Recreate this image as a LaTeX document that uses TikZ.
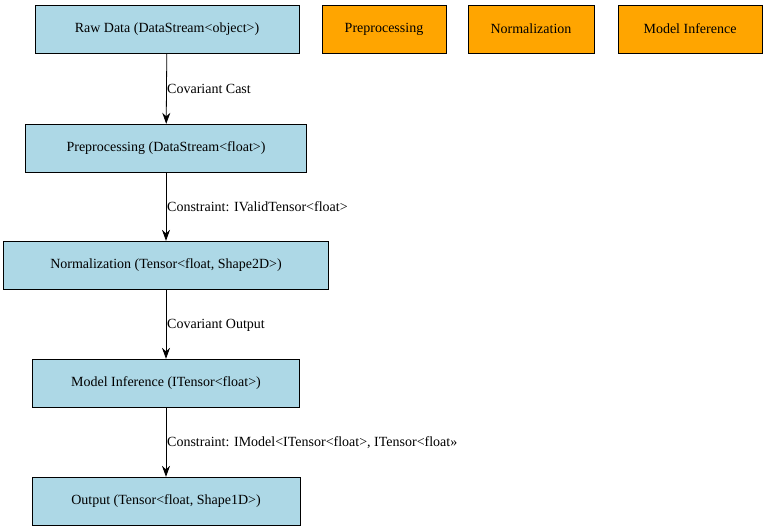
\documentclass[tikz,border=0pt]{standalone}
\usepackage{fontspec}
\setmainfont{Liberation Serif}
\usetikzlibrary{arrows.meta}
\begin{document}
\begin{tikzpicture}[x=1pt,y=-1pt,
  box/.style={draw=black,fill=blue!15!cyan!30!white,fill=lightblue,minimum height=48pt,inner sep=0pt,font=\fontsize{14}{16}\selectfont},
  obox/.style={draw=black,fill=orangec,minimum height=48pt,inner sep=0pt,font=\fontsize{14}{16}\selectfont},
  lab/.style={anchor=west,font=\fontsize{14}{16}\selectfont,inner sep=0pt},
  arr/.style={-{Stealth[length=11pt,width=8pt]},line width=0.8pt}]
\definecolor{lightblue}{RGB}{173,216,230}
\definecolor{orangec}{RGB}{255,165,0}
\useasboundingbox (0,0) rectangle (767,531);
\node[box,minimum width=264pt] (raw) at (167,29) {Raw Data (DataStream<object>)};
\node[obox,minimum width=124pt] (o1) at (384,29) {Preprocessing};
\node[obox,minimum width=126pt] (o2) at (531,29) {Normalization};
\node[obox,minimum width=144pt] (o3) at (690,29) {Model Inference};
\node[box,minimum width=281pt] (pre) at (166,148) {Preprocessing (DataStream<float>)};
\node[box,minimum width=325pt] (norm) at (166,265) {Normalization (Tensor<float, Shape2D>)};
\node[box,minimum width=267pt] (mi) at (166,383) {Model Inference (ITensor<float>)};
\node[box,minimum width=268pt] (out) at (166,501) {Output (Tensor<float, Shape1D>)};
\draw[arr] (raw) -- (pre);
\draw[arr] (pre) -- (norm);
\draw[arr] (norm) -- (mi);
\draw[arr] (mi) -- (out);
\node[lab] (l1) at (167,89) {Covariant Cast};
\node[lab] (l2) at (167,207) {Constraint: IValidTensor<float>};
\node[lab] (l3) at (167,325) {Covariant Output};
\node[lab] (l4) at (167,443) {Constraint: IModel<ITensor<float>, ITensor<float>>};
\end{tikzpicture}
\end{document}
